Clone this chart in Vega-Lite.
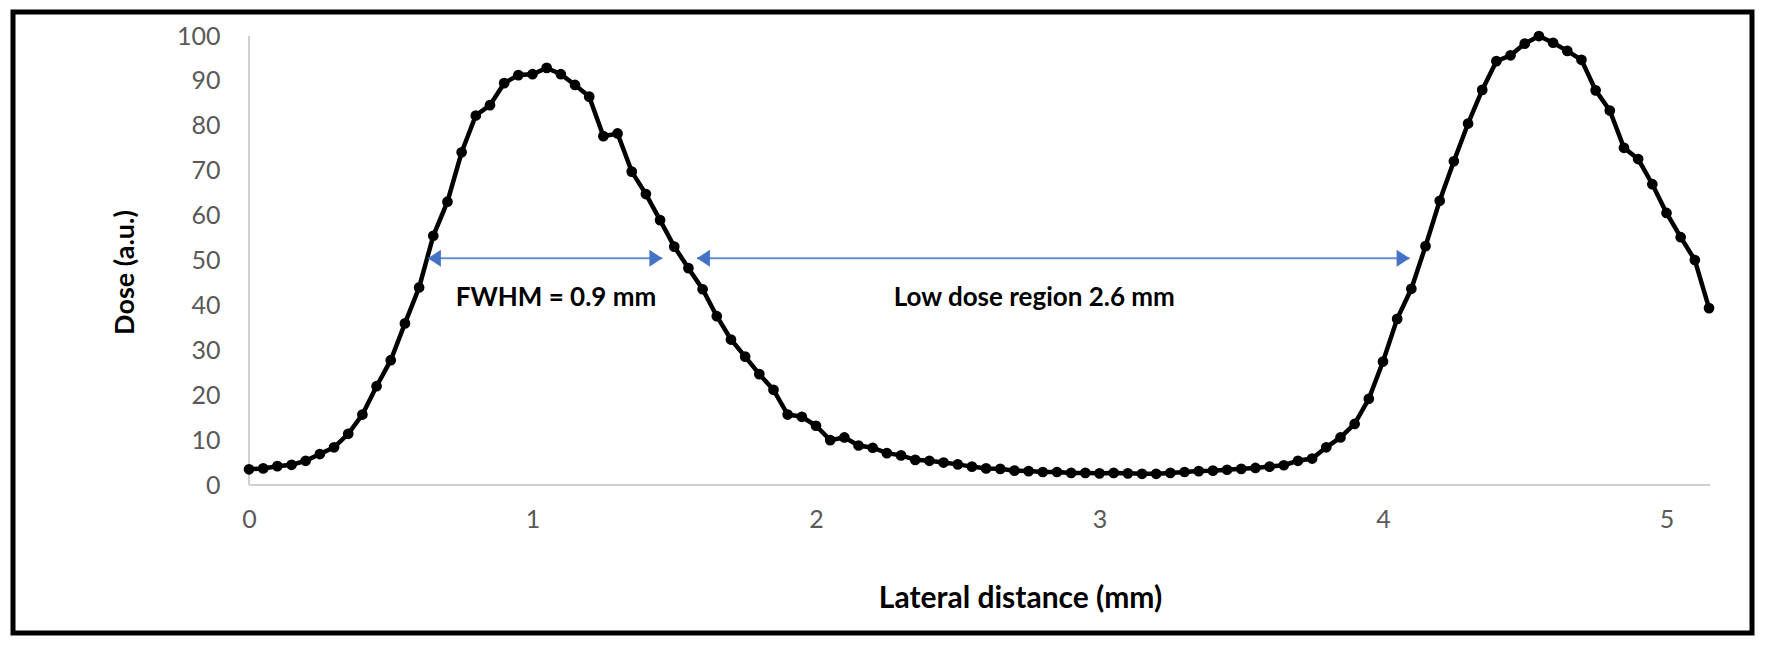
{
  "$schema": "https://vega.github.io/schema/vega-lite/v6.json",
  "width": 1739,
  "height": 621,
  "autosize": "none",
  "padding": {"left": 13, "top": 12, "right": 17, "bottom": 17},
  "background": "white",
  "datasets": {
    "profile": [
      {"x": 0.00, "dose": 3.5}, {"x": 0.05, "dose": 3.7}, {"x": 0.10, "dose": 4.2}, {"x": 0.15, "dose": 4.5},
      {"x": 0.20, "dose": 5.4}, {"x": 0.25, "dose": 6.9}, {"x": 0.30, "dose": 8.4}, {"x": 0.35, "dose": 11.4},
      {"x": 0.40, "dose": 15.7}, {"x": 0.45, "dose": 22.0}, {"x": 0.50, "dose": 27.8}, {"x": 0.55, "dose": 36.0},
      {"x": 0.60, "dose": 44.0}, {"x": 0.65, "dose": 55.5}, {"x": 0.70, "dose": 63.1}, {"x": 0.75, "dose": 74.1},
      {"x": 0.80, "dose": 82.3}, {"x": 0.85, "dose": 84.6}, {"x": 0.90, "dose": 89.5}, {"x": 0.95, "dose": 91.3},
      {"x": 1.00, "dose": 91.5}, {"x": 1.05, "dose": 92.9}, {"x": 1.10, "dose": 91.5}, {"x": 1.15, "dose": 89.1},
      {"x": 1.20, "dose": 86.5}, {"x": 1.25, "dose": 77.7}, {"x": 1.30, "dose": 78.3}, {"x": 1.35, "dose": 69.8},
      {"x": 1.40, "dose": 64.8}, {"x": 1.45, "dose": 59.0}, {"x": 1.50, "dose": 53.1}, {"x": 1.55, "dose": 48.3},
      {"x": 1.60, "dose": 43.6}, {"x": 1.65, "dose": 37.6}, {"x": 1.70, "dose": 32.4}, {"x": 1.75, "dose": 28.6},
      {"x": 1.80, "dose": 24.7}, {"x": 1.85, "dose": 21.2}, {"x": 1.90, "dose": 15.7}, {"x": 1.95, "dose": 15.2},
      {"x": 2.00, "dose": 13.2}, {"x": 2.05, "dose": 10.0}, {"x": 2.10, "dose": 10.6}, {"x": 2.15, "dose": 8.8},
      {"x": 2.20, "dose": 8.3}, {"x": 2.25, "dose": 7.1}, {"x": 2.30, "dose": 6.6}, {"x": 2.35, "dose": 5.6},
      {"x": 2.40, "dose": 5.4}, {"x": 2.45, "dose": 5.0}, {"x": 2.50, "dose": 4.6}, {"x": 2.55, "dose": 4.1},
      {"x": 2.60, "dose": 3.7}, {"x": 2.65, "dose": 3.6}, {"x": 2.70, "dose": 3.2}, {"x": 2.75, "dose": 3.1},
      {"x": 2.80, "dose": 2.9}, {"x": 2.85, "dose": 2.9}, {"x": 2.90, "dose": 2.7}, {"x": 2.95, "dose": 2.7},
      {"x": 3.00, "dose": 2.6}, {"x": 3.05, "dose": 2.7}, {"x": 3.10, "dose": 2.6}, {"x": 3.15, "dose": 2.5},
      {"x": 3.20, "dose": 2.5}, {"x": 3.25, "dose": 2.7}, {"x": 3.30, "dose": 2.9}, {"x": 3.35, "dose": 3.1},
      {"x": 3.40, "dose": 3.2}, {"x": 3.45, "dose": 3.4}, {"x": 3.50, "dose": 3.6}, {"x": 3.55, "dose": 3.8},
      {"x": 3.60, "dose": 4.1}, {"x": 3.65, "dose": 4.4}, {"x": 3.70, "dose": 5.4}, {"x": 3.75, "dose": 5.9},
      {"x": 3.80, "dose": 8.4}, {"x": 3.85, "dose": 10.6}, {"x": 3.90, "dose": 13.6}, {"x": 3.95, "dose": 19.2},
      {"x": 4.00, "dose": 27.5}, {"x": 4.05, "dose": 37.0}, {"x": 4.10, "dose": 43.7}, {"x": 4.15, "dose": 53.2},
      {"x": 4.20, "dose": 63.3}, {"x": 4.25, "dose": 72.1}, {"x": 4.30, "dose": 80.5}, {"x": 4.35, "dose": 88.0},
      {"x": 4.40, "dose": 94.4}, {"x": 4.45, "dose": 95.7}, {"x": 4.50, "dose": 98.3}, {"x": 4.55, "dose": 100.0},
      {"x": 4.60, "dose": 98.5}, {"x": 4.65, "dose": 96.7}, {"x": 4.70, "dose": 94.7}, {"x": 4.75, "dose": 87.9},
      {"x": 4.80, "dose": 83.4}, {"x": 4.85, "dose": 75.1}, {"x": 4.90, "dose": 72.6}, {"x": 4.95, "dose": 67.0},
      {"x": 5.00, "dose": 60.6}, {"x": 5.05, "dose": 55.2}, {"x": 5.10, "dose": 50.1}, {"x": 5.15, "dose": 39.4}
    ],
    "spans": [
      {"from": 0.631, "to": 1.458, "level": 50.5, "label": "FWHM = 0.9 mm", "labelX": 1.083, "labelY": 41.7},
      {"from": 1.580, "to": 4.094, "level": 50.5, "label": "Low dose region 2.6 mm", "labelX": 2.77, "labelY": 41.7}
    ],
    "heads": [
      {"x": 0.631, "level": 50.5, "dir": "left"},
      {"x": 1.458, "level": 50.5, "dir": "right"},
      {"x": 1.580, "level": 50.5, "dir": "left"},
      {"x": 4.094, "level": 50.5, "dir": "right"}
    ]
  },
  "layer": [
    {
      "data": {"name": "profile"},
      "mark": {"type": "rule", "color": "#d0d0d0", "strokeWidth": 2},
      "encoding": {
        "x": {"datum": 0},
        "x2": {"datum": 5.15},
        "y": {"datum": 0}
      }
    },
    {
      "data": {"name": "profile"},
      "mark": {"type": "rule", "color": "#d0d0d0", "strokeWidth": 2},
      "encoding": {
        "x": {"datum": 0},
        "y": {"datum": 0},
        "y2": {"datum": 100}
      }
    },
    {
      "data": {"name": "profile"},
      "mark": {"type": "line", "color": "black", "strokeWidth": 4.5},
      "encoding": {
        "x": {
          "field": "x",
          "type": "quantitative",
          "title": "Lateral distance (mm)",
          "scale": {"domain": [-0.8325, 5.3016], "nice": false, "zero": false},
          "axis": {
            "orient": "bottom",
            "offset": -148,
            "values": [0, 1, 2, 3, 4, 5],
            "format": "d",
            "domain": false,
            "ticks": false,
            "tickSize": 0,
            "grid": false,
            "labelPadding": 22,
            "labelFontSize": 25,
            "labelColor": "#595959",
            "labelFont": "Lato",
            "titleFont": "Lato",
            "titleFontSize": 30,
            "titleFontWeight": "bold",
            "titleColor": "black",
            "titleX": 1007,
            "titleY": 113,
            "titleBaseline": "middle",
            "titleAlign": "center"
          }
        },
        "y": {
          "field": "dose",
          "type": "quantitative",
          "title": "Dose (a.u.)",
          "scale": {"domain": [-32.96, 105.35], "nice": false, "zero": false},
          "axis": {
            "orient": "left",
            "offset": -236,
            "values": [0, 10, 20, 30, 40, 50, 60, 70, 80, 90, 100],
            "domain": false,
            "ticks": false,
            "tickSize": 0,
            "grid": false,
            "labelPadding": 29,
            "labelFontSize": 25,
            "labelColor": "#595959",
            "labelFont": "Lato",
            "titleFont": "Lato",
            "titleFontSize": 27,
            "titleFontWeight": "bold",
            "titleColor": "black",
            "titleX": -124,
            "titleY": 260,
            "titleBaseline": "middle",
            "titleAlign": "center",
            "titleAngle": -90
          }
        }
      }
    },
    {
      "data": {"name": "profile"},
      "mark": {"type": "point", "filled": true, "color": "black", "opacity": 1, "size": 115},
      "encoding": {
        "x": {"field": "x", "type": "quantitative"},
        "y": {"field": "dose", "type": "quantitative"}
      }
    },
    {
      "data": {"name": "spans"},
      "mark": {"type": "rule", "color": "#4472c4", "strokeWidth": 2, "opacity": 0.8},
      "encoding": {
        "x": {"field": "from", "type": "quantitative"},
        "x2": {"field": "to"},
        "y": {"field": "level", "type": "quantitative"}
      }
    },
    {
      "data": {"name": "heads"},
      "mark": {"type": "point", "filled": true, "color": "#4472c4", "opacity": 1, "size": 676},
      "encoding": {
        "x": {"field": "x", "type": "quantitative"},
        "y": {"field": "level", "type": "quantitative"},
        "shape": {
          "field": "dir",
          "type": "nominal",
          "scale": {
            "domain": ["left", "right"],
            "range": ["M 0 0 L 1 -0.65 L 1 0.65 Z", "M 0 0 L -1 -0.65 L -1 0.65 Z"]
          },
          "legend": null
        }
      }
    },
    {
      "data": {"name": "spans"},
      "mark": {"type": "text", "font": "Lato", "fontSize": 26, "fontWeight": "bold", "color": "black", "align": "center", "baseline": "middle"},
      "encoding": {
        "x": {"field": "labelX", "type": "quantitative"},
        "y": {"field": "labelY", "type": "quantitative"},
        "text": {"field": "label"}
      }
    }
  ],
  "config": {
    "font": "Lato",
    "view": {"stroke": "black", "strokeWidth": 5}
  }
}
